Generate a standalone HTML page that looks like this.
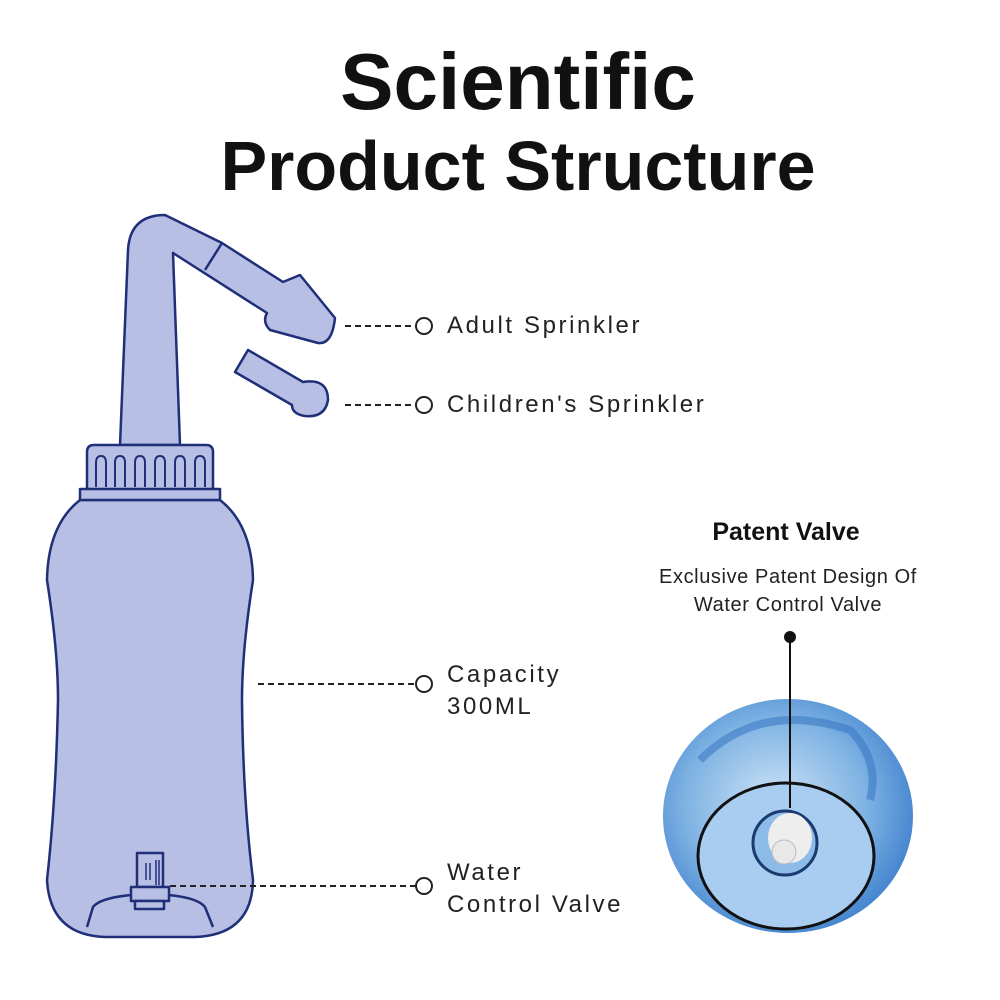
<!DOCTYPE html>
<html><head><style>
body{margin:0;width:1000px;height:1000px;background:#fff;overflow:hidden;position:relative;font-family:"Liberation Sans",sans-serif;}
.t{position:absolute;left:0;width:1000px;text-align:center;font-weight:bold;color:#111;}
.l{position:absolute;font-size:24px;color:#222;letter-spacing:2.6px;line-height:32px;}
</style></head><body>
<div class="t" style="top:37px;font-size:80px;line-height:90px;left:18px">Scientific</div>
<div class="t" style="top:124px;font-size:70px;line-height:84px;left:18px">Product Structure</div>
<svg width="1000" height="1000" style="position:absolute;left:0;top:0">
<defs>
<radialGradient id="g" cx="0.45" cy="0.45" r="0.6">
<stop offset="0" stop-color="#cfe4f7"/><stop offset="0.6" stop-color="#7fb3e3"/><stop offset="1" stop-color="#3d7fcc"/>
</radialGradient>
</defs>
<g fill="#b8bfe4" stroke="#1f2f78" stroke-width="2.5" stroke-linejoin="round">
<path d="M120,445 L128,250 Q130,215 165,215 L222,243 L283,282 L300,275 L335,318 Q332,345 318,343 L270,330 Q262,322 267,313 L173,253 L180,445 Z"/>
<line x1="222" y1="243" x2="205" y2="270"/>
<path d="M235,372 L248,350 L303,382 Q328,378 328,400 Q325,418 305,416 Q292,414 292,405 Z"/>
<path d="M80,500 Q48,525 47,580 Q58,650 58,700 Q56,800 47,880 Q50,935 105,937 L195,937 Q252,935 253,880 Q243,800 242,700 Q242,650 253,580 Q252,525 220,500 Z"/>
<path d="M87,492 L87,452 Q87,445 94,445 L206,445 Q213,445 213,452 L213,492 Z"/>
<rect x="80" y="489" width="140" height="11"/>
<path d="M96,487 V463 Q96,456 101,456 Q106,456 106,463 V487 M115,487 V463 Q115,456 120,456 Q125,456 125,463 V487 M135,487 V463 Q135,456 140,456 Q145,456 145,463 V487 M155,487 V463 Q155,456 160,456 Q165,456 165,463 V487 M175,487 V463 Q175,456 180,456 Q185,456 185,463 V487 M195,487 V463 Q195,456 200,456 Q205,456 205,463 V487" fill="none" stroke-width="2"/>
<path d="M87,927 L93,907 Q100,898 131,895 M169,895 Q198,898 205,907 L213,927" fill="none"/>
<rect x="137" y="853" width="26" height="34"/>
<rect x="131" y="887" width="38" height="14"/>
<rect x="135" y="901" width="29" height="8"/>
<path d="M146,863V880M150,863V880M156,860V885M159,860V885" stroke-width="1.5"/>
</g>
<g stroke="#222" stroke-width="2" stroke-dasharray="6,4" fill="none">
<line x1="345" y1="326" x2="416" y2="326"/>
<line x1="345" y1="405" x2="416" y2="405"/>
<line x1="258" y1="684" x2="416" y2="684"/>
<line x1="170" y1="886" x2="416" y2="886"/>
</g>
<g stroke="#222" stroke-width="2" fill="#fff">
<circle cx="424" cy="326" r="8"/><circle cx="424" cy="405" r="8"/>
<circle cx="424" cy="684" r="8"/><circle cx="424" cy="886" r="8"/>
</g>
<ellipse cx="788" cy="816" rx="125" ry="117" fill="url(#g)"/>
<path d="M700,760 Q760,700 850,730 Q880,760 870,800" fill="none" stroke="#2f6fc0" stroke-width="8" opacity="0.5"/>
<ellipse cx="786" cy="856" rx="88" ry="73" fill="#a9cdf0" stroke="#111" stroke-width="3"/>
<ellipse cx="785" cy="843" rx="32" ry="32" fill="#8dbbe8" stroke="#1a3a70" stroke-width="3"/>
<ellipse cx="790" cy="838" rx="22" ry="25" fill="#eee"/>
<circle cx="784" cy="852" r="12" fill="#e8e8e8" stroke="#bbb"/>
<line x1="790" y1="637" x2="790" y2="808" stroke="#111" stroke-width="2"/>
<circle cx="790" cy="637" r="6" fill="#111"/>
</svg>
<div class="l" style="left:447px;top:310px">Adult Sprinkler</div>
<div class="l" style="left:447px;top:389px">Children's Sprinkler</div>
<div class="l" style="left:447px;top:659px">Capacity<br>300ML</div>
<div class="l" style="left:447px;top:857px">Water<br>Control Valve</div>
<div style="position:absolute;left:586px;width:400px;text-align:center;top:518px;font-size:25px;font-weight:bold;color:#111">Patent Valve</div>
<div style="position:absolute;left:588px;width:400px;text-align:center;top:563px;font-size:20px;letter-spacing:0.6px;line-height:28px;color:#222">Exclusive Patent Design Of<br>Water Control Valve</div>
</body></html>
